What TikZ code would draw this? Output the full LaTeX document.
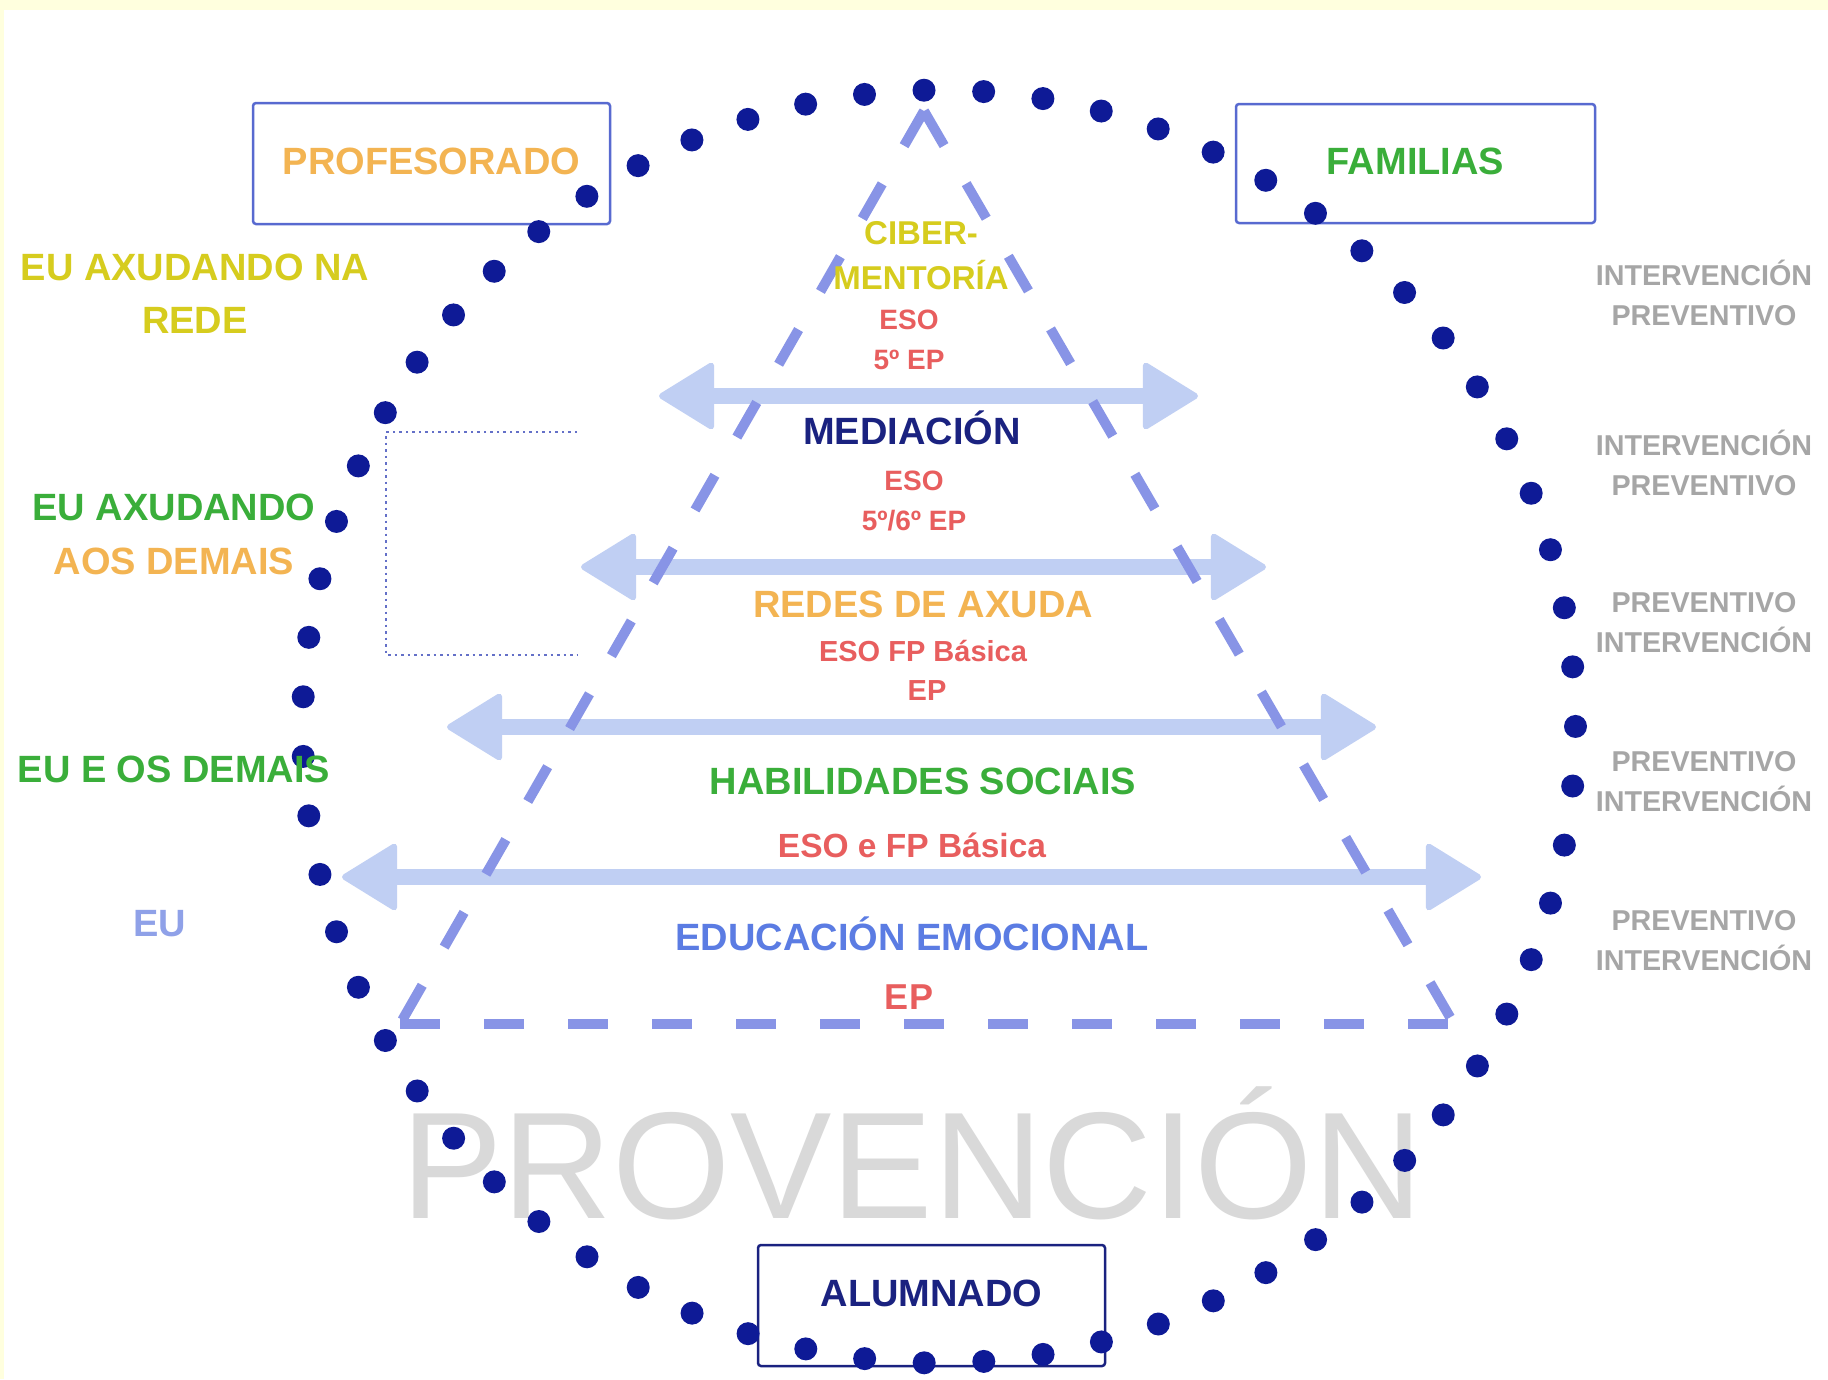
\documentclass[tikz,border=0pt]{standalone}
\usepackage{fontspec}
\setmainfont{Liberation Sans}
\usetikzlibrary{positioning, arrows.meta}

\definecolor{dotblue}{RGB}{14,26,150}
\definecolor{pyramidblue}{RGB}{136,148,230}
\definecolor{arrowblue}{RGB}{192,207,243}
\definecolor{boxblue}{RGB}{88,106,208}
\definecolor{deepnavy}{RGB}{26,34,128}
\definecolor{gold}{RGB}{243,180,82}
\definecolor{lemon}{RGB}{214,204,30}
\definecolor{leaf}{RGB}{58,174,58}
\definecolor{coral}{RGB}{232,94,94}
\definecolor{skyblue}{RGB}{91,124,227}
\definecolor{paleblue}{RGB}{143,161,232}
\definecolor{midgrey}{RGB}{166,166,166}
\definecolor{lightgrey}{RGB}{217,217,217}
\definecolor{cream}{RGB}{255,255,222}
\definecolor{bracketblue}{RGB}{100,112,200}

\begin{document}
\begin{tikzpicture}[x=1pt, y=-1pt,
    lbl/.style={anchor=base, font=\fontsize{38}{44}\selectfont\bfseries},
    side/.style={anchor=base, text=midgrey, font=\fontsize{28.7}{34}\selectfont\bfseries},
    level/.style={anchor=base, text=coral, font=\fontsize{28}{34}\selectfont\bfseries},
    groupbox/.style={draw=boxblue, line width=2.5pt, rounded corners=3pt, text height=27.2pt, font=\fontsize{38}{44}\selectfont\bfseries},
    bridge/.style={arrowblue, line width=16pt, {Triangle[length=58pt, width=70pt, line width=6pt, round]}-{Triangle[length=58pt, width=70pt, line width=6pt, round]}},
    pyramid/.style={pyramidblue, line width=10pt, dash pattern=on 40pt off 44pt},
    bracket/.style={bracketblue, line width=2.5pt, dash pattern=on 2.5pt off 4pt}]

    \fill[cream] (0,0) rectangle (1828,1379);
    \fill[white] (4,10) rectangle (1828,1379);
    \useasboundingbox (0,0) rectangle (1828,1379);

    \node[anchor=base, text=lightgrey, font=\fontsize{152}{160}\selectfont] (provencion) at (912,1218) {PROVENCIÓN};

    \node[groupbox, text=gold, minimum width=357pt, minimum height=121pt, text depth=5pt] (profesorado) at (431.5,163.5) {PROFESORADO};
    \node[groupbox, text=leaf, minimum width=359pt, minimum height=119pt, text depth=5pt] (familias) at (1415.5,163.5) {FAMILIAS};
    \node[groupbox, draw=deepnavy, text=deepnavy, minimum width=347pt, minimum height=121pt, text depth=25pt] (alumnado) at (931.5,1305.5) {ALUMNADO};

    \coordinate (mediacion_l) at (659,396);
    \coordinate (mediacion_r) at (1198,396);
    \coordinate (redes_l) at (581,567);
    \coordinate (redes_r) at (1266,567);
    \coordinate (habilidades_l) at (447,727);
    \coordinate (habilidades_r) at (1376,727);
    \coordinate (educacion_l) at (342,877);
    \coordinate (educacion_r) at (1481,877);
    \draw[bridge] (mediacion_l) -- (mediacion_r);
    \draw[bridge] (redes_l) -- (redes_r);
    \draw[bridge] (habilidades_l) -- (habilidades_r);
    \draw[bridge] (educacion_l) -- (educacion_r);

    \coordinate (apex) at (924,111);
    \coordinate (base_l) at (400,1024);
    \coordinate (base_r) at (1454,1024);
    \draw[pyramid] (apex) -- (base_l);
    \draw[pyramid] (apex) -- (base_r);
    \draw[pyramid] (base_l) -- (base_r);

    \coordinate (bracket_top) at (577,432);
    \coordinate (bracket_mid) at (386,543);
    \coordinate (bracket_bot) at (577,655);
    \draw[bracket] (bracket_top) -| (bracket_mid) |- (bracket_bot);

    \foreach \i in {0,...,66}
        \fill[dotblue] ({939+636.5*cos(268.65+\i*5.37313)}, {726.5+636.5*sin(268.65+\i*5.37313)}) circle (11.5pt);

    \node[lbl, text=lemon] (rede_a) at (195,280) {EU AXUDANDO NA};
    \node[lbl, text=lemon] (rede_b) at (195,333) {REDE};
    \node[lbl, text=leaf] (demais_a) at (174,520) {EU AXUDANDO};
    \node[lbl, text=gold] (demais_b) at (174,574) {AOS DEMAIS};
    \node[lbl, text=leaf] (demais_c) at (174,782) {EU E OS DEMAIS};
    \node[lbl, text=paleblue] (eu) at (160,936) {EU};

    \foreach \y/\first/\second [count=\k] in {285/INTERVENCIÓN/PREVENTIVO, 455/INTERVENCIÓN/PREVENTIVO, 612/PREVENTIVO/INTERVENCIÓN, 771/PREVENTIVO/INTERVENCIÓN, 930/PREVENTIVO/INTERVENCIÓN} {
        \node[side] (type_\k_a) at (1704,\y) {\first};
        \node[side] (type_\k_b) at (1704,\y+40) {\second};
    }

    \node[lbl, text=lemon, font=\fontsize{33}{40}\selectfont\bfseries] (ciber_a) at (921,244) {CIBER-};
    \node[lbl, text=lemon, font=\fontsize{33}{40}\selectfont\bfseries] (ciber_b) at (921,289) {MENTORÍA};
    \node[level] (ciber_lv_a) at (909,329) {ESO};
    \node[level] (ciber_lv_b) at (909,369) {5º EP};

    \node[lbl, text=deepnavy] (mediacion) at (912,444) {MEDIACIÓN};
    \node[level] (mediacion_lv_a) at (914,490) {ESO};
    \node[level] (mediacion_lv_b) at (914,530) {5º/6º EP};

    \node[lbl, text=gold] (redes) at (923,617) {REDES DE AXUDA};
    \node[level, font=\fontsize{29}{34}\selectfont\bfseries] (redes_lv_a) at (923,661) {ESO FP Básica};
    \node[level, font=\fontsize{29}{34}\selectfont\bfseries] (redes_lv_b) at (927,700) {EP};

    \node[lbl, text=leaf] (habilidades) at (923,794) {HABILIDADES SOCIAIS};
    \node[level, font=\fontsize{33.5}{40}\selectfont\bfseries] (habilidades_lv) at (912,857) {ESO e FP Básica};

    \node[lbl, text=skyblue] (educacion) at (912,950) {EDUCACIÓN EMOCIONAL};
    \node[level, font=\fontsize{36}{42}\selectfont\bfseries] (educacion_lv) at (909,1009) {EP};
\end{tikzpicture}
\end{document}
